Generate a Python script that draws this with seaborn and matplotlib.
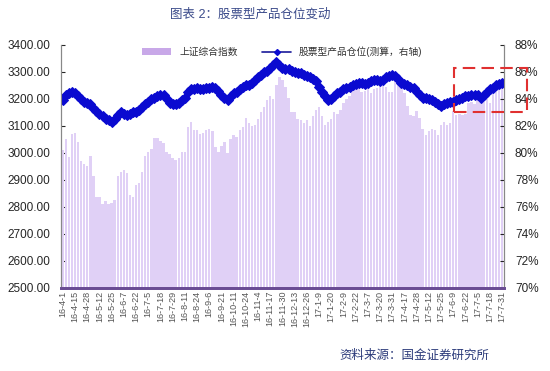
import numpy as np
import pandas as pd
import seaborn as sns
import matplotlib.pyplot as plt
from matplotlib.patches import Rectangle, Patch
from matplotlib.lines import Line2D
from matplotlib.ticker import FuncFormatter

# tick labels (every 4th point)
date_labels = ['16-4-1', '16-4-15', '16-4-28', '16-5-12', '16-5-25', '16-6-7', '16-6-22',
               '16-7-5', '16-7-18', '16-7-29', '16-8-11', '16-8-24', '16-9-6', '16-9-21',
               '16-10-11', '16-10-24', '16-11-4', '16-11-17', '16-11-30', '16-12-13',
               '16-12-26', '17-1-9', '17-1-20', '17-2-9', '17-2-22', '17-3-7', '17-3-20',
               '17-3-31', '17-4-17', '17-4-28', '17-5-12', '17-5-25', '17-6-9', '17-6-22',
               '17-7-5', '17-7-18', '17-7-31']

# 上证综合指数
sse_index = [3010, 3050, 2985, 3070, 3075, 3040, 2970, 2960, 2950, 2990, 2915, 2835,
             2835, 2810, 2820, 2810, 2815, 2825, 2915, 2930, 2935, 2925, 2845, 2835,
             2880, 2890, 2930, 2990, 3005, 3015, 3055, 3055, 3045, 3035, 3005, 2995,
             2980, 2975, 2980, 3005, 3005, 3095, 3115, 3085, 3085, 3070, 3075, 3085,
             3090, 3080, 3020, 3005, 3025, 3040, 3000, 3050, 3065, 3060, 3085, 3095,
             3130, 3110, 3100, 3105, 3125, 3150, 3170, 3195, 3210, 3200, 3250, 3280,
             3270, 3245, 3205, 3150, 3150, 3125, 3120, 3110, 3120, 3100, 3135, 3160,
             3170, 3135, 3105, 3115, 3125, 3150, 3145, 3160, 3185, 3200, 3210, 3240,
             3260, 3245, 3225, 3230, 3240, 3220, 3235, 3240, 3250, 3255, 3245, 3225,
             3225, 3270, 3290, 3265, 3220, 3175, 3140, 3135, 3155, 3130, 3090, 3065,
             3080, 3090, 3085, 3065, 3105, 3115, 3105, 3110, 3155, 3140, 3145, 3140,
             3145, 3185, 3190, 3180, 3205, 3215, 3195, 3220, 3185, 3240, 3250, 3245,
             3275]

# 股票型产品仓位 (%)
equity_position = [83.9, 84.3, 84.4, 84.5, 84.4, 84.2, 84.0, 83.8, 83.7, 83.6, 83.3, 83.1,
                   82.9, 82.7, 82.5, 82.4, 82.3, 82.5, 82.8, 83.0, 82.9, 82.8, 82.9, 83.0,
                   83.0, 83.2, 83.4, 83.6, 83.8, 84.0, 84.1, 84.2, 84.3, 84.3, 84.0, 83.7,
                   83.6, 83.6, 83.7, 83.9, 84.1, 84.5, 84.7, 84.7, 84.8, 84.7, 84.7, 84.8,
                   84.8, 84.9, 84.8, 84.6, 84.3, 84.1, 83.9, 84.2, 84.4, 84.5, 84.7, 84.9,
                   85.0, 85.0, 85.2, 85.4, 85.6, 85.8, 86.0, 86.1, 86.3, 86.5, 86.7, 86.5,
                   86.3, 86.2, 86.2, 86.1, 86.0, 85.9, 85.9, 85.8, 85.7, 85.6, 85.5, 85.3,
                   84.9, 84.5, 84.2, 83.9, 84.0, 84.2, 84.4, 84.5, 84.7, 84.8, 84.9, 85.0,
                   85.1, 85.2, 85.2, 85.1, 85.2, 85.3, 85.4, 85.4, 85.3, 85.4, 85.6, 85.7,
                   85.8, 85.7, 85.5, 85.2, 85.1, 85.0, 84.9, 84.8, 84.5, 84.3, 84.1, 84.1,
                   84.0, 83.9, 83.8, 83.6, 83.5, 83.6, 83.7, 83.8, 83.8, 83.9, 84.0, 84.1,
                   84.2, 84.2, 84.3, 84.3, 84.3, 84.1, 84.3, 84.5, 84.7, 84.8, 85.0, 85.1,
                   85.2]

df = pd.DataFrame({'idx': np.arange(len(sse_index)), 'index': sse_index,
                   'pos': equity_position})

sns.set_style('white')
plt.rcParams['font.family'] = ['Liberation Sans', 'Noto Sans CJK SC', 'DejaVu Sans']

fig = plt.figure(figsize=(5.5, 3.71), dpi=100)
ax = fig.add_axes([0.111, 0.224, 0.805, 0.655])

bar_color = '#e0d0f6'
line_color = '#0a0ad0'

sns.barplot(data=df, x='idx', y='index', color=bar_color, width=0.8,
            edgecolor='none', saturation=1, ax=ax)
ax.set_ylim(2500, 3400)
ax.set_xlim(-0.6, len(df) - 0.4)
ax.set_yticks(np.arange(2500, 3401, 100))
ax.yaxis.set_major_formatter(FuncFormatter(lambda v, p: f'{v:.2f}'))
ax.set_xticks(np.arange(0, len(df), 4))
ax.set_xticklabels(date_labels, rotation=90, fontsize=6.5, color='#555555')
ax.set_xlabel('')
ax.set_ylabel('')
ax.tick_params(axis='y', labelsize=8.5, direction='in', length=3, pad=8)
ax.tick_params(axis='x', length=0, pad=2)

ax2 = ax.twinx()
sns.lineplot(data=df, x='idx', y='pos', color=line_color, linewidth=3,
             marker='D', markersize=5, markeredgecolor=line_color, ax=ax2)
ax2.set_ylim(70, 88)
ax2.set_yticks(np.arange(70, 89, 2))
ax2.yaxis.set_major_formatter(FuncFormatter(lambda v, p: f'{v:.0f}%'))
ax2.set_ylabel('')
ax2.tick_params(axis='y', labelsize=8.5, direction='in', length=3, pad=8)

for a in (ax, ax2):
    a.spines['top'].set_visible(False)
    a.spines['left'].set_color('#888888')
    a.spines['right'].set_color('#888888')
    a.spines['bottom'].set_color('#6a4c93')
    a.spines['bottom'].set_linewidth(2)

handles = [Patch(facecolor='#c8a8e8', edgecolor='none'),
           Line2D([0], [0], color='#1a1a9a', lw=1.2, marker='D', markersize=3,
                  markerfacecolor=line_color, markeredgecolor=line_color)]
ax2.legend(handles, ['上证综合指数', '股票型产品仓位(测算，右轴)'], loc='upper center',
           bbox_to_anchor=(0.5, 1.03), ncol=2, frameon=False, fontsize=7,
           handlelength=3, columnspacing=2.5, labelcolor='#333333')

fig.text(0.455, 0.96, '图表 2：股票型产品仓位变动', ha='center', va='center',
         fontsize=9, color='#3a4a8a')
fig.text(0.89, 0.04, '资料来源：国金证券研究所', ha='right', va='center',
         fontsize=9, color='#2b3a7a')

fig.patches.append(Rectangle((0.825, 0.698), 0.133, 0.119, transform=fig.transFigure,
                             fill=False, edgecolor='#e03030', linewidth=1.5,
                             linestyle=(0, (6, 3))))

fig.savefig('out.png', dpi=100)
